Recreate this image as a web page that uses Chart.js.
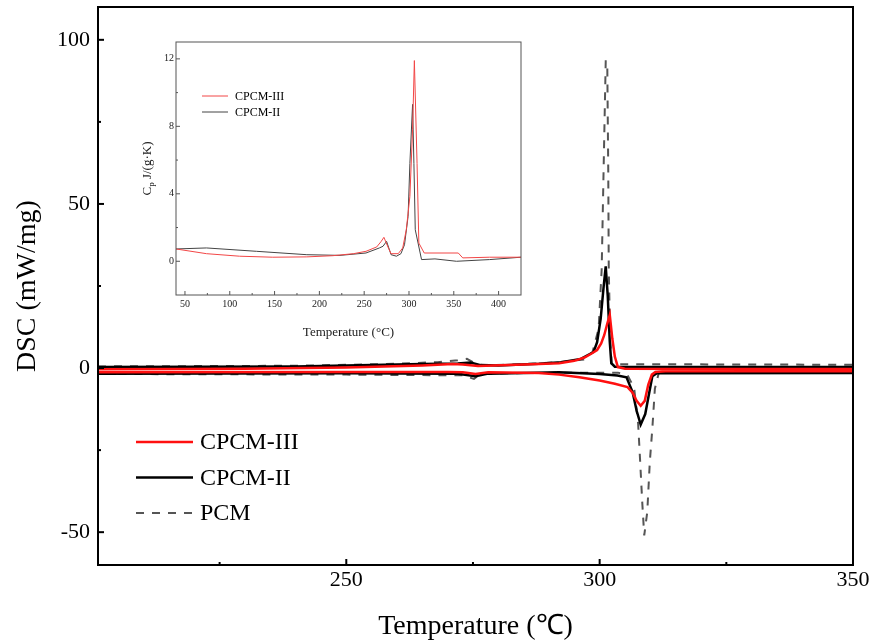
<!DOCTYPE html>
<html>
<head>
<meta charset="utf-8">
<script src="https://cdn.jsdelivr.net/npm/chart.js@4.4.1/dist/chart.umd.min.js"></script>
<style>
  html, body { margin: 0; padding: 0; background: #fff; }
  #wrap { position: relative; width: 872px; height: 643px; }
  #main { position: absolute; left: 0; top: 0; }
  #inset { position: absolute; left: 120px; top: 30px; background: #fff; }
</style>
</head>
<body>
<div id="wrap">
  <canvas id="main" width="872" height="643"></canvas>
  <canvas id="inset" width="420" height="310"></canvas>
</div>
<script>
// main DSC plot - heating (upper) and cooling (lower) branches, temperature in C
const cpcm3HeatT = [201, 230, 250, 265, 271, 273, 276, 282, 288, 292, 295, 297, 298.5, 299.5, 300.3, 300.9, 301.5, 302, 302.5, 303, 303.6, 305, 330, 350];
const cpcm3HeatY = [-0.4, -0.2, 0.2, 0.8, 1.2, 1.1, 0.6, 0.9, 1.2, 1.5, 2.2, 3.2, 4.5, 5.5, 7.5, 10, 13.5, 16.2, 9, 3.5, 0.3, -0.2, -0.3, -0.3];
const cpcm3CoolT = [201, 250, 270, 273, 275.5, 278, 288, 292, 296, 300, 303, 305.5, 306.5, 307.3, 308.1, 308.9, 309.6, 310.3, 311, 313, 350];
const cpcm3CoolY = [-1.3, -1.2, -1.2, -1.3, -1.8, -1.3, -1.5, -2, -2.8, -3.8, -4.8, -5.8, -7.5, -10, -11.5, -10, -5, -2, -1.2, -1.0, -1.0];

const cpcm2HeatT = [201, 240, 265, 272, 274.5, 276.5, 280, 288, 292.4, 296.3, 298.8, 299.5, 300.2, 300.8, 301.2, 301.6, 302, 302.3, 303, 350];
const cpcm2HeatY = [0.3, 0.5, 1.2, 1.4, 1.7, 0.9, 0.8, 1.3, 1.8, 2.8, 4.9, 7.9, 15, 25, 31, 22, 8, 1.5, 0.4, 0.3];
const cpcm2CoolT = [201, 250, 272, 275.5, 278, 292, 300, 303.5, 305.3, 306.5, 307.3, 308.1, 309, 309.7, 310.4, 311.3, 350];
const cpcm2CoolY = [-1.7, -1.6, -1.7, -2.5, -1.7, -1.3, -1.8, -2.3, -2.8, -7.3, -13, -17.2, -14, -8.2, -2.5, -1.6, -1.5];

const pcmHeatT = [201, 240, 260, 268, 272, 273.8, 275, 277, 285, 292, 297, 298.6, 299.8, 300.4, 300.9, 301.2, 301.5, 301.7, 301.8, 302.1, 302.4, 350];
const pcmHeatY = [0.5, 0.7, 1.3, 1.8, 2.4, 2.8, 1.8, 0.8, 1.2, 1.8, 2.6, 4.9, 12, 30, 70, 93.5, 93.5, 60, 30, 8, 1.2, 1.0];
const pcmCoolT = [201, 250, 270, 273, 275.2, 276.5, 285, 300, 303.6, 305.5, 306.8, 307.6, 308, 308.4, 308.8, 309.4, 309.9, 310.4, 310.9, 311.7, 350];
const pcmCoolY = [-1.8, -2.0, -2.2, -2.2, -3.3, -1.8, -1.5, -1.4, -1.4, -2.2, -6, -17, -28.6, -40.7, -51, -43.8, -28.6, -18.4, -6.3, -1.3, -1.4];

const mainXTicks = [250, 300, 350];
const mainYTicks = [-50, 0, 50, 100];

// inset: specific heat
const cp3T = [40, 74, 111, 148, 186, 215, 238, 252, 264, 269, 272, 277, 280, 288, 293, 297, 301, 304, 306, 309, 311, 317, 355, 360, 390, 425];
const cp3Y = [0.73, 0.45, 0.3, 0.24, 0.26, 0.33, 0.45, 0.59, 0.85, 1.18, 1.42, 0.79, 0.45, 0.45, 0.79, 1.87, 3.84, 7.8, 11.9, 5.8, 1.08, 0.49, 0.49, 0.2, 0.24, 0.24];
const cp2T = [40, 74, 130, 186, 223, 252, 267, 271, 275, 280, 286, 291, 295, 299, 301, 304, 305.5, 307, 314, 329, 353, 390, 425];
const cp2Y = [0.73, 0.79, 0.59, 0.39, 0.35, 0.49, 0.79, 0.89, 1.18, 0.39, 0.3, 0.45, 0.98, 2.66, 5.8, 9.3, 5.8, 1.87, 0.1, 0.14, 0, 0.1, 0.24];

const insetXTicks = [50, 100, 150, 200, 250, 300, 350, 400];
const insetYTicks = [0, 4, 8, 12];

Chart.defaults.font.family = '"Liberation Serif", "Times New Roman", serif';
Chart.defaults.color = '#000';

const toPts = (t, v) => t.map((x, i) => ({x: x, y: v[i]}));

// one path: heating forward, a gap, cooling back
const loop = (upT, upY, lowT, lowY) => {
    let pts = toPts(upT, upY);
    pts.push({x: upT[upT.length - 1], y: null});
    return pts.concat(toPts(lowT, lowY).reverse());
}

// box around the plot plus inward ticks (major + minor)
const frameTicks = {
    id: 'frameTicks',
    afterDraw(chart, args, o) {
        const {ctx, chartArea: a, scales} = chart;
        ctx.save();
        ctx.strokeStyle = o.color;
        ctx.lineWidth = o.width;
        ctx.strokeRect(a.left, a.top, a.right - a.left, a.bottom - a.top);
        const tick = (x1, y1, x2, y2) => {
            ctx.beginPath(); ctx.moveTo(x1, y1); ctx.lineTo(x2, y2); ctx.stroke();
        };
        o.xMajor.forEach(v => { const p = scales.x.getPixelForValue(v); tick(p, a.bottom, p, a.bottom - o.major); });
        o.xMinor.forEach(v => { const p = scales.x.getPixelForValue(v); tick(p, a.bottom, p, a.bottom - o.minor); });
        o.yMajor.forEach(v => { const p = scales.y.getPixelForValue(v); tick(a.left, p, a.left + o.major, p); });
        o.yMinor.forEach(v => { const p = scales.y.getPixelForValue(v); tick(a.left, p, a.left + o.minor, p); });
        ctx.restore();
    }
};

const boxLegend = {
    id: 'boxLegend',
    afterDraw(chart, args, o) {
        const ctx = chart.ctx;
        ctx.save();
        ctx.font = o.font;
        ctx.textBaseline = 'middle';
        ctx.fillStyle = '#000';
        chart.data.datasets.forEach((ds, i) => {
            const y = o.y + i * o.gap;
            ctx.strokeStyle = ds.borderColor;
            ctx.lineWidth = ds.borderWidth;
            ctx.setLineDash(ds.borderDash || []);
            ctx.beginPath(); ctx.moveTo(o.x, y); ctx.lineTo(o.x + o.len, y); ctx.stroke();
            ctx.setLineDash([]);
            ctx.fillText(ds.label, o.x + o.len + o.pad, y + 1);
        });
        ctx.restore();
    }
};

// Cp title with subscript p
const cpTitle = {
    id: 'cpTitle',
    afterDraw(chart) {
        const ctx = chart.ctx, a = chart.chartArea;
        const big = '13px "Liberation Serif", serif', small = '9px "Liberation Serif", serif';
        ctx.save();
        ctx.fillStyle = '#222';
        ctx.textBaseline = 'middle';
        ctx.font = big; const w1 = ctx.measureText('C').width, w3 = ctx.measureText(' J/(g·K)').width;
        ctx.font = small; const w2 = ctx.measureText('p').width;
        ctx.translate(28, (a.top + a.bottom) / 2);
        ctx.rotate(-Math.PI / 2);
        let x = -(w1 + w2 + w3) / 2;
        ctx.font = big; ctx.fillText('C', x, 0); x += w1;
        ctx.font = small; ctx.fillText('p', x, 4); x += w2;
        ctx.font = big; ctx.fillText(' J/(g·K)', x, 0);
        ctx.restore();
    }
};

const setTicks = (vals) => (s) => { s.ticks = vals.map(v => ({value: v})); };

// fixed axis box size, no extra edge padding for labels
const fixSize = (key, size) => (s) => {
    s[key] = size;
    s.paddingTop = 0; s.paddingBottom = 0; s.paddingLeft = 0; s.paddingRight = 0;
};

new Chart(document.getElementById('main'), {
    type: 'scatter',
    data: {
        datasets: [
            {label: 'CPCM-III', data: loop(cpcm3HeatT, cpcm3HeatY, cpcm3CoolT, cpcm3CoolY), borderColor: '#ff1010', borderWidth: 2.5},
            {label: 'CPCM-II', data: loop(cpcm2HeatT, cpcm2HeatY, cpcm2CoolT, cpcm2CoolY), borderColor: '#000000', borderWidth: 2.5},
            {label: 'PCM', data: loop(pcmHeatT, pcmHeatY, pcmCoolT, pcmCoolY), borderColor: '#555555', borderWidth: 2, borderDash: [8, 8]}
        ].map(d => Object.assign(d, {showLine: true, pointRadius: 0, tension: 0, spanGaps: false}))
    },
    plugins: [frameTicks, boxLegend],
    options: {
        responsive: false,
        animation: false,
        layout: {padding: {left: 0, right: 19, top: 7, bottom: 0}},
        plugins: {
            legend: {display: false},
            tooltip: {enabled: false},
            frameTicks: {color: '#000', width: 2, major: 6, minor: 3,
                xMajor: mainXTicks, xMinor: [225, 275, 325], yMajor: mainYTicks, yMinor: [-25, 25, 75]},
            boxLegend: {font: '24px "Liberation Serif", serif', x: 136, len: 57, pad: 7, y: 442, gap: 35.5}
        },
        scales: {
            x: {
                type: 'linear', min: 201, max: 350,
                afterBuildTicks: setTicks(mainXTicks),
                afterFit: fixSize('height', 78),
                grid: {display: false, drawTicks: false},
                border: {display: false},
                ticks: {padding: 2, font: {size: 22}, maxRotation: 0},
                title: {display: true, text: 'Temperature (℃)', font: {size: 28}, padding: {top: 1, bottom: 0}}
            },
            y: {
                type: 'linear', min: -60, max: 110,
                afterBuildTicks: setTicks(mainYTicks),
                afterFit: fixSize('width', 98),
                grid: {display: false, drawTicks: false},
                border: {display: false},
                ticks: {padding: 8, font: {size: 22}},
                title: {display: true, text: 'DSC (mW/mg)', font: {size: 28}, padding: {top: 11, bottom: 0}}
            }
        }
    }
});

new Chart(document.getElementById('inset'), {
    type: 'scatter',
    data: {
        datasets: [
            {label: 'CPCM-III', data: toPts(cp3T, cp3Y), borderColor: '#f24646', borderWidth: 1},
            {label: 'CPCM-II', data: toPts(cp2T, cp2Y), borderColor: '#444444', borderWidth: 1}
        ].map(d => Object.assign(d, {showLine: true, pointRadius: 0, tension: 0}))
    },
    plugins: [frameTicks, boxLegend, cpTitle],
    options: {
        responsive: false,
        animation: false,
        layout: {padding: {left: 0, right: 19, top: 12, bottom: 0}},
        plugins: {
            legend: {display: false},
            tooltip: {enabled: false},
            frameTicks: {color: '#555', width: 1, major: 4, minor: 2,
                xMajor: insetXTicks, xMinor: [75, 125, 175, 225, 275, 325, 375], yMajor: insetYTicks, yMinor: [2, 6, 10]},
            boxLegend: {font: '12px "Liberation Serif", serif', x: 82, len: 26, pad: 7, y: 66, gap: 16}
        },
        scales: {
            x: {
                type: 'linear', min: 40, max: 425,
                afterBuildTicks: setTicks(insetXTicks),
                afterFit: fixSize('height', 45),
                grid: {display: false, drawTicks: false},
                border: {display: false},
                ticks: {padding: 3, font: {size: 10}, color: '#222', maxRotation: 0},
                title: {display: true, text: 'Temperature (°C)', font: {size: 13}, color: '#222', padding: {top: 7, bottom: 0}}
            },
            y: {
                type: 'linear', min: -2, max: 13,
                afterBuildTicks: setTicks(insetYTicks),
                afterFit: fixSize('width', 56),
                grid: {display: false, drawTicks: false},
                border: {display: false},
                ticks: {padding: 2, font: {size: 10}, color: '#222'}
            }
        }
    }
});
</script>
</body>
</html>
